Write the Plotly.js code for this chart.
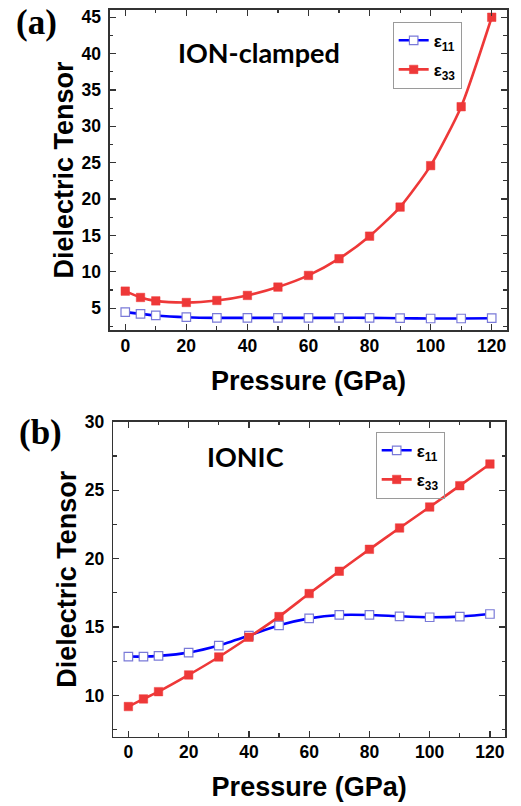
<!DOCTYPE html>
<html>
<head>
<meta charset="utf-8">
<script src="https://cdn.plot.ly/plotly-3.0.1.min.js"></script>
<style>html,body{margin:0;padding:0;background:#fff;}#chart{width:521px;height:806px;}</style>
</head>
<body>
<div id="chart"></div>
<script>
// Pressure values (GPa)
const pressure = [0, 5, 10, 20, 30, 40, 50, 60, 70, 80, 90, 100, 110, 120];

// (a) ION-clamped
const clampedE11 = [4.45, 4.22, 4.0, 3.76, 3.67, 3.67, 3.67, 3.67, 3.67, 3.67, 3.62, 3.58, 3.58, 3.62];
const clampedE33 = [7.34, 6.47, 6.0, 5.78, 6.06, 6.75, 7.9, 9.5, 11.8, 14.9, 18.9, 24.6, 32.7, 45.0];

// (b) IONIC
const ionicE11 = [12.85, 12.85, 12.9, 13.14, 13.65, 14.38, 15.13, 15.64, 15.89, 15.89, 15.79, 15.72, 15.77, 15.96];
const ionicE33 = [9.2, 9.76, 10.29, 11.51, 12.82, 14.26, 15.77, 17.45, 19.08, 20.68, 22.24, 23.77, 25.33, 26.91];

const seriesNames = ['ε<sub>11</sub>', 'ε<sub>33</sub>'];
const panelLabels = ['(a)', '(b)'];
const panelTitles = ['ION-clamped', 'IONIC'];
const xTitle = 'Pressure (GPa)';
const yTitle = 'Dielectric Tensor';

const BLUE = '#0000ff';
const RED = '#ee3838';
const FRAME = '#333333';
const ARIAL = 'Liberation Sans, Arial, sans-serif';

function e11Trace(y, xa, ya, lg) {
  return {
    x: pressure, y: y, xaxis: xa, yaxis: ya, legend: lg, legendgroup: 'g11',
    name: seriesNames[0], type: 'scatter', mode: 'lines+markers',
    line: {color: BLUE, width: 2.6, shape: 'spline', smoothing: 0.6},
    marker: {symbol: 'square', size: 8.5, color: '#ffffff', line: {color: '#7a7ad8', width: 1.2}}
  };
}
function e33Trace(y, xa, ya, lg) {
  return {
    x: pressure, y: y, xaxis: xa, yaxis: ya, legend: lg, legendgroup: 'g33',
    name: seriesNames[1], type: 'scatter', mode: 'lines+markers',
    line: {color: RED, width: 2.6, shape: 'spline', smoothing: 0.6},
    marker: {symbol: 'square', size: 8.5, color: RED, line: {color: RED, width: 0.5}}
  };
}

const data = [
  e11Trace(clampedE11, 'x', 'y', 'legend'),
  e33Trace(clampedE33, 'x', 'y', 'legend'),
  e11Trace(ionicE11, 'x2', 'y2', 'legend2'),
  e33Trace(ionicE33, 'x2', 'y2', 'legend2')
];

function tickFont() { return {family: ARIAL, size: 17.5, weight: 'bold', color: '#000000'}; }
function titleFont() { return {family: ARIAL, size: 27, weight: 'bold', color: '#000000'}; }

function xAxis(domain, anchor) {
  return {
    domain: domain, anchor: anchor, range: [-5, 125],
    tickmode: 'linear', tick0: 0, dtick: 20, ticks: 'inside', ticklen: 6, tickwidth: 1.3, tickcolor: FRAME,
    minor: {dtick: 10, ticks: 'inside', ticklen: 3.5, tickwidth: 1.2, tickcolor: FRAME},
    showline: true, linecolor: FRAME, linewidth: 1.6, mirror: 'allticks',
    showgrid: false, zeroline: false, ticklabelstandoff: -1,
    tickfont: tickFont(),
    title: {text: xTitle, font: titleFont(), standoff: 16},
    automargin: false
  };
}
function yAxis(domain, anchor, range, dtick) {
  return {
    domain: domain, anchor: anchor, range: range,
    tickmode: 'linear', tick0: 0, dtick: dtick, ticks: 'inside', ticklen: 6, tickwidth: 1.3, tickcolor: FRAME,
    minor: {dtick: dtick / 2, ticks: 'inside', ticklen: 3.5, tickwidth: 1.2, tickcolor: FRAME},
    showline: true, linecolor: FRAME, linewidth: 1.6, mirror: 'allticks',
    showgrid: false, zeroline: false, ticklabelstandoff: 4,
    tickfont: tickFont(),
    title: {text: yTitle, font: titleFont(), standoff: 0},
    automargin: false
  };
}

function legendStyle(x, y) {
  return {
    x: x, y: y, xanchor: 'left', yanchor: 'top', bgcolor: 'rgba(255,255,255,0)',
    bordercolor: '#9a9a9a', borderwidth: 1,
    traceorder: 'grouped', tracegroupgap: 4,
    font: {family: ARIAL, size: 17, weight: 'bold', color: '#000'}
  };
}

const layout = {
  width: 521, height: 806,
  margin: {l: 0, r: 0, t: 0, b: 0},
  paper_bgcolor: '#fff', plot_bgcolor: '#fff',
  font: {family: ARIAL, size: 18, weight: 'bold', color: '#000'},
  showlegend: true,
  xaxis: xAxis([0.2111, 0.9731], 'y'),
  yaxis: yAxis([0.5906, 0.9876], 'x', [2, 46], 5),
  xaxis2: xAxis([0.2175, 0.9693], 'y2'),
  yaxis2: yAxis([0.0860, 0.4768], 'x2', [7, 30], 5),
  legend: legendStyle(0.7537, 0.9730),
  legend2: legendStyle(0.7211, 0.4643),
  annotations: [
    {text: panelLabels[0], xref: 'paper', yref: 'paper', x: 0.071, y: 0.9715, xanchor: 'center', yanchor: 'middle', showarrow: false,
     font: {family: 'Liberation Serif, Times New Roman, serif', size: 35, weight: 'bold', color: '#000'}},
    {text: panelLabels[1], xref: 'paper', yref: 'paper', x: 0.077, y: 0.464, xanchor: 'center', yanchor: 'middle', showarrow: false,
     font: {family: 'Liberation Serif, Times New Roman, serif', size: 35, weight: 'bold', color: '#000'}},
    {text: panelTitles[0], xref: 'paper', yref: 'paper', x: 0.497, y: 0.9346, xanchor: 'center', yanchor: 'middle', showarrow: false,
     font: {family: 'Lato, Open Sans, sans-serif', size: 27, weight: 'bold', color: '#000'}},
    {text: panelTitles[1], xref: 'paper', yref: 'paper', x: 0.472, y: 0.4334, xanchor: 'center', yanchor: 'middle', showarrow: false,
     font: {family: 'Lato, Open Sans, sans-serif', size: 27, weight: 'bold', color: '#000'}}
  ]
};

Plotly.newPlot('chart', data, layout, {displayModeBar: false, staticPlot: true});
</script>
</body>
</html>
